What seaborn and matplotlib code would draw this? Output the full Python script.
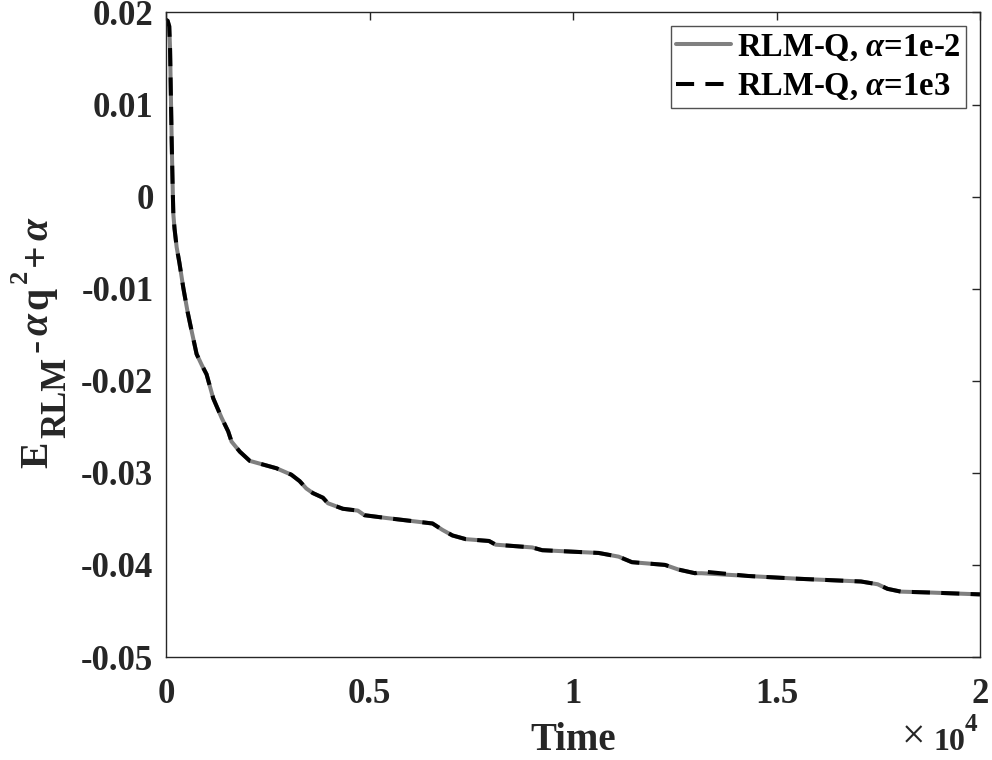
import matplotlib
matplotlib.use("Agg")
import matplotlib.pyplot as plt
from matplotlib.transforms import IdentityTransform
import pandas
import seaborn

# time (s) and energy values
TIME = [0, 40, 80, 100, 120, 140, 160, 180, 210, 262, 330, 425, 530, 630, 752,
        880, 997, 1160, 1364, 1528, 1610, 1814, 2059, 2386, 2713, 3080, 3284,
        3448, 3610, 3856, 3978, 4345, 4713, 4876, 5407, 5978, 6549, 6794, 7039,
        7366, 7937, 8100, 8998, 9243, 10631, 11121, 11447, 12263, 12589, 12997,
        13160, 14302, 15527, 17077, 17485, 17730, 18056, 18790, 20000]

ENERGY_SMALL = [0.0192, 0.0191, 0.0185, 0.016, 0.011, 0.006, 0.0018, -0.0019,
                -0.0035, -0.0055, -0.0072, -0.0099, -0.0125, -0.0146, -0.0171,
                -0.0183, -0.0193, -0.0219, -0.0240, -0.0255, -0.0266, -0.0277,
                -0.0287, -0.0291, -0.0295, -0.0302, -0.0309, -0.0317, -0.0322,
                -0.0327, -0.0333, -0.0339, -0.0341, -0.0346, -0.0349, -0.0352,
                -0.0355, -0.0362, -0.0368, -0.0372, -0.0374, -0.0378, -0.0381,
                -0.0384, -0.0387, -0.0391, -0.0397, -0.0400, -0.0405, -0.0409,
                -0.0409, -0.0412, -0.0415, -0.0418, -0.0421, -0.0426, -0.0429,
                -0.0430, -0.0432]

ENERGY_LARGE = [0.0192, 0.0191, 0.0185, 0.016, 0.011, 0.006, 0.0018, -0.0019,
                -0.0035, -0.0055, -0.0072, -0.0099, -0.0125, -0.0146, -0.0171,
                -0.0183, -0.0193, -0.0219, -0.0240, -0.0255, -0.0266, -0.0277,
                -0.0287, -0.0291, -0.0295, -0.0302, -0.0309, -0.0317, -0.0322,
                -0.0327, -0.0333, -0.0339, -0.0341, -0.0346, -0.0349, -0.0352,
                -0.0355, -0.0362, -0.0368, -0.0372, -0.0374, -0.0378, -0.0381,
                -0.0384, -0.0387, -0.0391, -0.0397, -0.0400, -0.0405, -0.0409,
                -0.0407, -0.0412, -0.0415, -0.0418, -0.0421, -0.0426, -0.0429,
                -0.0430, -0.0432]

LABEL_SMALL = r"RLM-Q, $\alpha$=1e-2"
LABEL_LARGE = r"RLM-Q, $\alpha$=1e3"

XTICKS = [0, 5000, 10000, 15000, 20000]
XTICK_LABELS = ["0", "0.5", "1", "1.5", "2"]
YTICKS = [0.02, 0.01, 0, -0.01, -0.02, -0.03, -0.04, -0.05]
YTICK_LABELS = ["0.02", "0.01", "0", "-0.01", "-0.02", "-0.03", "-0.04", "-0.05"]

# y label pieces: text, font size, baseline x (px), style
YLABEL_PARTS = [
    ("E", 28.5, 47, "normal"),
    ("RLM", 25, 65, "normal"),
    ("-", 28.5, 47, "normal"),
    ("\u03b1", 28.5, 47, "italic"),
    ("q", 28.5, 47, "normal"),
    ("2", 19, 27, "normal"),
    ("+", 28.5, 47, "normal"),
    ("\u03b1", 28.5, 47, "italic"),
]
YLABEL_GAP = 4

TEXT_COLOR = "#262626"

seaborn.set_style("white")
plt.rcParams["font.family"] = ["Liberation Serif", "DejaVu Serif"]
plt.rcParams["font.weight"] = "bold"
plt.rcParams["mathtext.fontset"] = "custom"
plt.rcParams["mathtext.rm"] = "Liberation Serif:bold"
plt.rcParams["mathtext.bf"] = "Liberation Serif:bold"
plt.rcParams["mathtext.it"] = "Liberation Serif:italic:bold"
plt.rcParams["axes.unicode_minus"] = False

df_small = pandas.DataFrame({"t": TIME, "e": ENERGY_SMALL})
df_large = pandas.DataFrame({"t": TIME, "e": ENERGY_LARGE})

W, H = 992, 760
fig = plt.figure(figsize=(W / 100, H / 100), dpi=100)
ax = fig.add_axes([166 / W, 1 - 657 / H, (980 - 166) / W, (657 - 12.5) / H])

seaborn.lineplot(data=df_small, x="t", y="e", color=(0.5, 0.5, 0.5),
                 linewidth=2.9, label=LABEL_SMALL, ax=ax)
seaborn.lineplot(data=df_large, x="t", y="e", color="black",
                 linewidth=2.9, label=LABEL_LARGE, ax=ax)
ax.lines[1].set_dashes((4.5, 2.8))

ax.set_xlim(0, 20000)
ax.set_ylim(-0.05, 0.02)
ax.set_xticks(XTICKS)
ax.set_xticklabels(XTICK_LABELS)
ax.set_yticks(YTICKS)
ax.set_yticklabels(YTICK_LABELS)
ax.tick_params(direction="in", length=6, width=1, top=True, right=True,
               labelsize=25, color=TEXT_COLOR, labelcolor=TEXT_COLOR)
ax.tick_params(axis="y", pad=9)
ax.tick_params(axis="x", pad=15)
for spine in ax.spines.values():
    spine.set_color(TEXT_COLOR)
    spine.set_linewidth(1)

# x label, baseline at 750 px
ax.set_xlabel("Time", fontsize=28, fontweight="bold", color=TEXT_COLOR)
ax.xaxis.label.set_va("baseline")
ax.xaxis.set_label_coords(0.5, (657 - 750) / (657 - 12.5))
ax.set_ylabel("")

# x10^4 multiplier
fig.text(925 / W, 1 - 748 / H, "\u00d7", fontsize=30, fontweight="normal",
         ha="right", va="baseline", color=TEXT_COLOR)
fig.text(965 / W, 1 - 750 / H, "10", fontsize=23, fontweight="bold",
         ha="right", va="baseline", color=TEXT_COLOR)
fig.text(965 / W, 1 - 731 / H, "4", fontsize=18, fontweight="bold",
         ha="left", va="baseline", color=TEXT_COLOR)

leg = ax.legend(loc="upper right", fontsize=23.5, frameon=True, fancybox=False,
                handlelength=1.69, handletextpad=0.18, borderpad=0.16,
                labelspacing=0.26, borderaxespad=0.42)
leg.get_frame().set_edgecolor(TEXT_COLOR)
leg.get_frame().set_linewidth(1)
for txt in leg.get_texts():
    txt.set_color("black")

# y label built piece by piece so sub/superscripts keep MATLAB-like sizes
fig.canvas.draw()
renderer = fig.canvas.get_renderer()
y_pos = H - 468
for text, size, x_base, style in YLABEL_PARTS:
    t = fig.text(x_base, y_pos, text, transform=IdentityTransform(),
                 rotation=90, rotation_mode="anchor", ha="left", va="baseline",
                 fontsize=size, fontweight="bold", fontstyle=style,
                 color=TEXT_COLOR)
    bb = t.get_window_extent(renderer)
    y_pos = bb.y1 + YLABEL_GAP

fig.savefig("out.png", dpi=100)
